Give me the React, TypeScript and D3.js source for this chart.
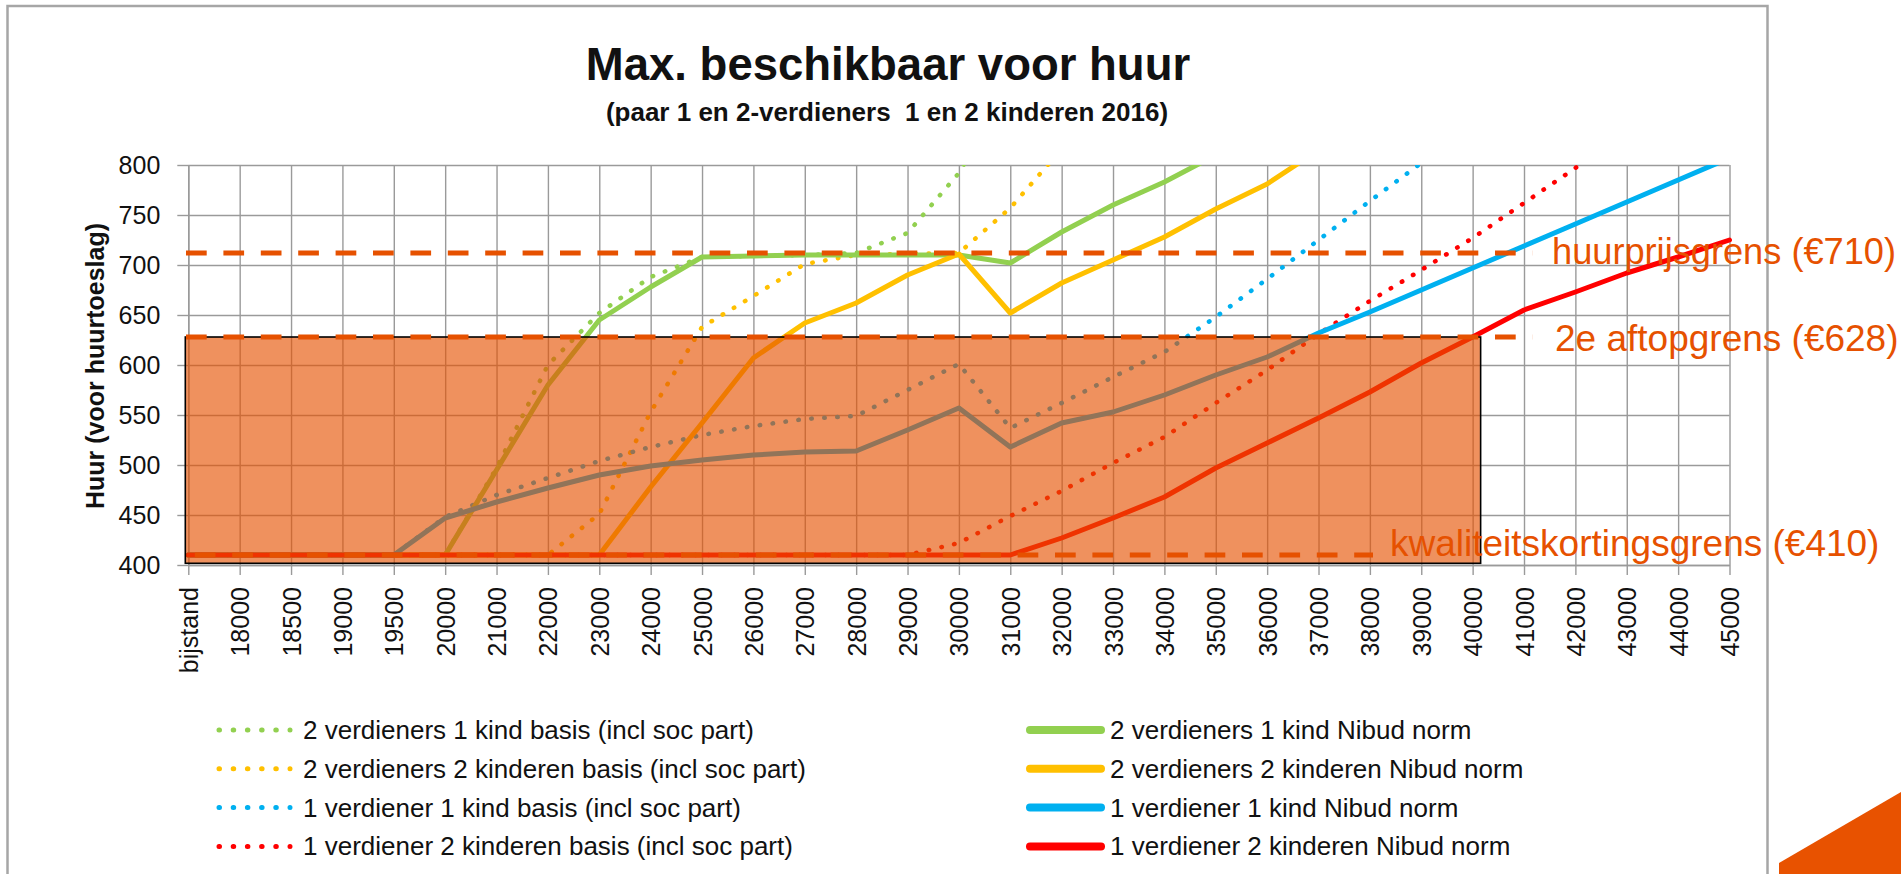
import { useEffect, useRef } from 'react';
import * as d3 from 'd3';

const categories = [
  'bijstand', '18000', '18500', '19000', '19500', '20000', '21000', '22000', '23000', '24000',
  '25000', '26000', '27000', '28000', '29000', '30000', '31000', '32000', '33000', '34000',
  '35000', '36000', '37000', '38000', '39000', '40000', '41000', '42000', '43000', '44000', '45000',
];

const yTicks = [400, 450, 500, 550, 600, 650, 700, 750, 800];

// "basis (incl soc part)" series, drawn dotted
const basis2v1k = [410, 410, 410, 410, 410, 410, 497, 600, 652, 688, 708, 709, 710, 712, 732, 792, 880];
const basis2v2k = [410, 410, 410, 410, 410, 410, 410, 410, 451, 553, 638, 669, 701, 710, 711, 712, 757, 816];
const basis1v1k = [410, 410, 410, 410, 410, 448, 470, 487, 504, 518, 530, 539, 546, 549, 575, 601, 537, 562, 588, 613, 648, 686, 725, 764, 802, 840];
const basis1v2k = [410, 410, 410, 410, 410, 410, 410, 410, 410, 410, 410, 410, 410, 410, 410, 422, 449, 474, 502, 528, 562, 595, 631, 664, 695, 727, 762, 797, 835];

// "Nibud norm" series, drawn solid
const norm2v1k = [410, 410, 410, 410, 410, 410, 495, 580, 645, 678, 708, 709, 710, 710, 710, 710, 702, 733, 760, 783, 810];
const norm2v2k = [410, 410, 410, 410, 410, 410, 410, 410, 410, 478, 542, 607, 642, 662, 690, 711, 652, 682, 705, 728, 756, 781, 815];
const norm1v1k = [410, 410, 410, 410, 410, 447, 463, 477, 490, 499, 505, 510, 513, 514, 535, 557, 518, 542, 553, 570, 590, 608, 632, 653, 675, 697, 719, 741, 763, 785, 807];
const norm1v2k = [410, 410, 410, 410, 410, 410, 410, 410, 410, 410, 410, 410, 410, 410, 410, 410, 410, 427, 447, 468, 497, 522, 547, 573, 602, 628, 655, 673, 692, 708, 725];

const basisNames = [
  '2 verdieners 1 kind basis (incl soc part)',
  '2 verdieners 2 kinderen basis (incl soc part)',
  '1 verdiener 1 kind basis (incl soc part)',
  '1 verdiener 2 kinderen basis (incl soc part)',
];
const normNames = [
  '2 verdieners 1 kind Nibud norm',
  '2 verdieners 2 kinderen Nibud norm',
  '1 verdiener 1 kind Nibud norm',
  '1 verdiener 2 kinderen Nibud norm',
];

const thresholdValues = [712, 628, 410];
const thresholdLabels = ['huurprijsgrens (€710)', '2e aftopgrens (€628)', 'kwaliteitskortingsgrens (€410)'];

const colors = ['#92d050', '#ffc000', '#00b0f0', '#ff0000'];

export default function App() {
  const svgRef = useRef<SVGSVGElement>(null);

  useEffect(() => {
    const width = 1901;
    const height = 874;
    const font = "'Liberation Sans', Arial, sans-serif";
    const orange = '#e65100';
    const grid = '#9a9a9a';

    const svg = d3.select(svgRef.current);
    svg.attr('viewBox', `0 0 ${width} ${height}`).attr('font-family', font);
    svg.selectAll('*').remove();

    const left = 188.3;
    const right = 1729.5;
    const top = 165;
    const bottom = 565;

    const x = d3.scalePoint<string>().domain(categories).range([left, right]);
    const y = d3.scaleLinear().domain([400, 800]).range([bottom, top]);

    // chart frame
    svg
      .append('rect')
      .attr('x', 7.5)
      .attr('y', 6)
      .attr('width', 1760)
      .attr('height', 900)
      .attr('fill', '#fff')
      .attr('stroke', '#a6a6a6')
      .attr('stroke-width', 2.5);

    svg
      .append('text')
      .attr('x', 888)
      .attr('y', 80)
      .attr('text-anchor', 'middle')
      .attr('font-size', 45.5)
      .attr('font-weight', 'bold')
      .attr('fill', '#111')
      .text('Max. beschikbaar voor huur');

    svg
      .append('text')
      .attr('x', 887)
      .attr('y', 121)
      .attr('text-anchor', 'middle')
      .attr('font-size', 26)
      .attr('font-weight', 'bold')
      .attr('fill', '#111')
      .attr('xml:space', 'preserve')
      .text('(paar 1 en 2-verdieners  1 en 2 kinderen 2016)');

    // grid
    svg
      .append('g')
      .attr('transform', `translate(${left},0)`)
      .call(d3.axisLeft(y).tickValues(yTicks).tickSize(-(right - left)).tickSizeOuter(0).tickFormat(() => ''))
      .call((g) => g.select('.domain').remove())
      .selectAll('line')
      .attr('stroke', grid)
      .attr('stroke-width', 1.4);

    svg
      .append('g')
      .attr('transform', `translate(0,${bottom})`)
      .call(d3.axisBottom(x).tickSize(-(bottom - top)).tickSizeOuter(0).tickFormat(() => ''))
      .call((g) => g.select('.domain').remove())
      .selectAll('line')
      .attr('stroke', grid)
      .attr('stroke-width', 1.4);

    // axes
    const yAxis = svg
      .append('g')
      .attr('transform', `translate(${left},0)`)
      .call(d3.axisLeft(y).tickValues(yTicks).tickSize(11).tickSizeOuter(0).tickPadding(17));
    yAxis.attr('font-size', 25).attr('font-family', font);
    yAxis.selectAll('line, .domain').attr('stroke', grid).attr('stroke-width', 1.4);
    yAxis.selectAll('text').attr('fill', '#111');

    const xAxis = svg
      .append('g')
      .attr('transform', `translate(0,${bottom})`)
      .call(d3.axisBottom(x).tickSize(10).tickSizeOuter(0));
    xAxis.attr('font-size', 25).attr('font-family', font);
    xAxis.selectAll('line, .domain').attr('stroke', grid).attr('stroke-width', 1.4);
    xAxis
      .selectAll('text')
      .attr('fill', '#111')
      .attr('transform', 'rotate(-90)')
      .attr('x', -22)
      .attr('y', 0)
      .attr('dy', '0.36em')
      .attr('text-anchor', 'end');

    svg
      .append('text')
      .attr('transform', 'translate(104,366) rotate(-90)')
      .attr('text-anchor', 'middle')
      .attr('font-size', 25)
      .attr('font-weight', 'bold')
      .attr('fill', '#111')
      .text('Huur (voor huurtoeslag)');

    // series
    svg
      .append('clipPath')
      .attr('id', 'plot-clip')
      .append('rect')
      .attr('x', left - 10)
      .attr('y', top)
      .attr('width', right - left + 20)
      .attr('height', bottom - top);

    const line = d3
      .line<number>()
      .x((d, i) => x(categories[i]) as number)
      .y((d) => y(d));

    const series = [
      ...[basis2v1k, basis2v2k, basis1v1k, basis1v2k].map((values, i) => ({ values, color: colors[i], dotted: true })),
      ...[norm2v1k, norm2v2k, norm1v1k, norm1v2k].map((values, i) => ({ values, color: colors[i], dotted: false })),
    ];

    const plot = svg.append('g').attr('clip-path', 'url(#plot-clip)');
    series.forEach((s) => {
      plot
        .append('path')
        .datum(s.values)
        .attr('fill', 'none')
        .attr('stroke', s.color)
        .attr('stroke-width', s.dotted ? 4.5 : 5)
        .attr('stroke-linecap', 'round')
        .attr('stroke-linejoin', 'round')
        .attr('stroke-dasharray', s.dotted ? '0.5 12.5' : null)
        .attr('d', line);
    });

    // shaded area up to the 2e aftopgrens
    svg
      .append('rect')
      .attr('x', (x('bijstand') as number) - 3)
      .attr('y', y(628))
      .attr('width', (x('40000') as number) + 8 - ((x('bijstand') as number) - 3))
      .attr('height', bottom - 1.7 - y(628))
      .attr('fill', 'rgba(230,81,0,0.63)')
      .attr('stroke', '#000')
      .attr('stroke-width', 1.6);

    // threshold lines and labels
    const lineEnds = [1532.5, 1532.5, 1373];
    const labelPos = [
      [1552, 264],
      [1555, 351],
      [1390, 556],
    ];
    thresholdValues.forEach((v, i) => {
      svg
        .append('line')
        .attr('x1', 186)
        .attr('x2', lineEnds[i])
        .attr('y1', y(v))
        .attr('y2', y(v))
        .attr('stroke', orange)
        .attr('stroke-width', 5)
        .attr('stroke-dasharray', '20.7 16.7')
        .attr('stroke-dashoffset', i === 2 ? 28.6 : 0);
      const label = svg
        .append('text')
        .attr('x', labelPos[i][0])
        .attr('y', labelPos[i][1])
        .attr('font-size', 37)
        .attr('fill', orange)
        .text(thresholdLabels[i]);
      if (i === 0) label.attr('textLength', 344).attr('lengthAdjust', 'spacingAndGlyphs');
    });

    // legend
    const rowY = (i: number) => 730 + i * 38.8;
    basisNames.forEach((name, i) => {
      svg
        .append('line')
        .attr('x1', 219)
        .attr('x2', 290)
        .attr('y1', rowY(i))
        .attr('y2', rowY(i))
        .attr('stroke', colors[i])
        .attr('stroke-width', 5)
        .attr('stroke-linecap', 'round')
        .attr('stroke-dasharray', '0.5 13.7');
      svg
        .append('text')
        .attr('x', 303)
        .attr('y', rowY(i) + 9)
        .attr('font-size', 26)
        .attr('fill', '#111')
        .text(name);
    });
    normNames.forEach((name, i) => {
      svg
        .append('line')
        .attr('x1', 1030)
        .attr('x2', 1101)
        .attr('y1', rowY(i))
        .attr('y2', rowY(i))
        .attr('stroke', colors[i])
        .attr('stroke-width', 8)
        .attr('stroke-linecap', 'round');
      svg
        .append('text')
        .attr('x', 1110)
        .attr('y', rowY(i) + 9)
        .attr('font-size', 26)
        .attr('fill', '#111')
        .text(name);
    });

    // slide corner accent
    svg.append('path').attr('d', 'M1779,874L1779,863L1901,792L1901,874Z').attr('fill', '#e85200');
  }, []);

  return (
    <svg
      ref={svgRef}
      width={1901}
      height={874}
      style={{ position: 'absolute', left: 0, top: 0, display: 'block', background: '#fff' }}
    ></svg>
  );
}
